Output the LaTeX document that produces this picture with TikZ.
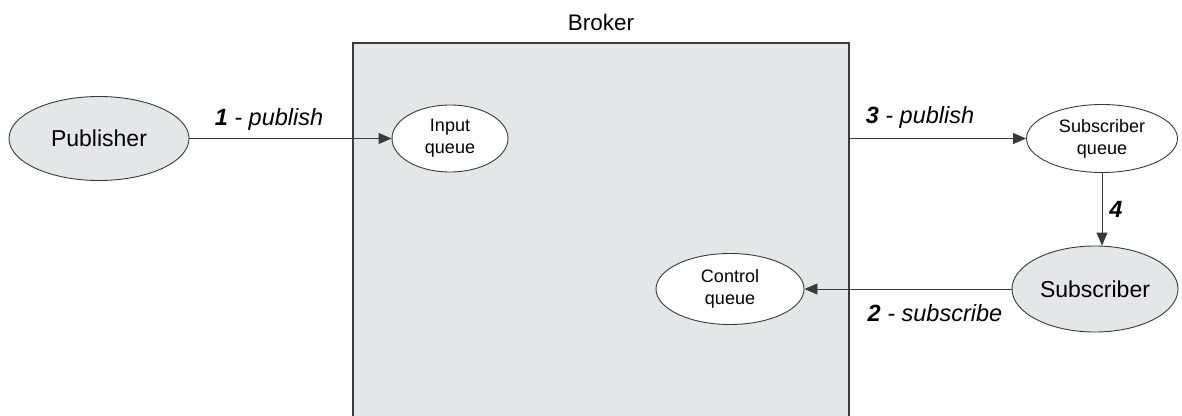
\documentclass[tikz,border=0pt]{standalone}
\usepackage{fontspec}
\setmainfont{Liberation Sans}
\usetikzlibrary{arrows.meta,shapes.geometric}
\definecolor{boxgray}{HTML}{E5E6E8}
\definecolor{edgegray}{HTML}{3A3A3A}
\tikzset{
  big/.style={ellipse, draw=edgegray, line width=0.9pt, fill=boxgray,
    minimum width=#1, inner sep=0pt, font=\fontsize{23}{26}\selectfont},
  queue/.style={ellipse, draw=edgegray, line width=0.9pt, fill=white,
    inner sep=0pt, align=center, font=\fontsize{18}{22}\selectfont},
  flow/.style={draw=edgegray, line width=0.9pt, -{Triangle[length=13pt,width=11pt]}},
  lbl/.style={font=\fontsize{23.5}{26}\selectfont\itshape, text=black}
}
\begin{document}
\begin{tikzpicture}[x=1pt,y=-1pt]
\useasboundingbox (0,0) rectangle (1182,415);
\begin{scope}
  \clip (0,0) rectangle (1182,415);
  % broker area
  \draw[fill=boxgray, draw=edgegray, line width=1.2pt] (353,43) rectangle (849,430);
\end{scope}
\node[font=\fontsize{22.5}{24}\selectfont] (broker) at (601,22) {Broker};

% participants
\node[big=180pt, minimum height=84pt] (pub) at (99,138.5) {Publisher};
\node[big=166pt, minimum height=86pt] (sub) at (1095,289) {Subscriber};

% queues inside and outside the broker
\node[queue, minimum width=116pt, minimum height=67pt] (inq) at (450,138.5) {Input\\queue};
\node[queue, minimum width=151pt, minimum height=68pt] (subq) at (1102,138.5) {Subscriber\\queue};
\node[queue, minimum width=148pt, minimum height=71pt] (ctlq) at (730,289) {Control\\queue};

\coordinate (bright) at (849,138.5);

% message flows
\draw[flow] (pub.east) -- (inq.west);
\node[lbl] (l1) at (269,119) {\textbf{1} - publish};

\draw[flow] (bright) -- (subq.west);
\node[lbl] (l3) at (920,117) {\textbf{3} - publish};

\draw[flow] (subq.south) -- (subq.south |- sub.north);
\node[lbl] (l4) at (1116,209) {\textbf{4}};

\draw[flow] (sub.west) -- (ctlq.east);
\node[lbl] (l2) at (935,313) {\textbf{2} - subscribe};
\end{tikzpicture}
\end{document}
